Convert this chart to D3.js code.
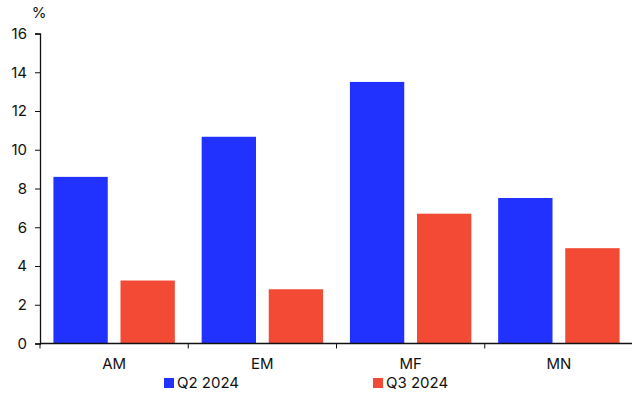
<!DOCTYPE html>
<html>
<head>
<meta charset="utf-8">
<script src="https://cdn.jsdelivr.net/npm/d3@7"></script>
<style>
	body { margin: 0; background: #fff; }
	text { font-family: Inter, "Liberation Sans", sans-serif; fill: #111; }
</style>
</head>
<body>
<svg></svg>
<script>
var categories = ["AM", "EM", "MF", "MN"];
var seriesNames = ["Q2 2024", "Q3 2024"];
var q2 = [8.6, 10.67, 13.5, 7.51];
var q3 = [3.25, 2.8, 6.7, 4.92];
var yTicks = [0, 2, 4, 6, 8, 10, 12, 14, 16];
var colors = ["#2132ff", "#f24a35"];

var draw = function() {

	var width = 632, height = 394;
	var left = 40, right = 633, top = 33.5, bottom = 343.5;

	var svg = d3.select("svg")
		.attr("width", width)
		.attr("height", height);

	var data = categories.map(function(c, i) {
		return { cat: c, values: [q2[i], q3[i]] };
	});

	// scales
	var scaleX = d3.scaleBand()
		.domain(categories)
		.range([left, right])
		.paddingInner(0)
		.paddingOuter(0);

	var scaleSub = d3.scaleBand()
		.domain(d3.range(seriesNames.length))
		.range([0, scaleX.bandwidth()])
		.paddingInner(0.19)
		.paddingOuter(0.2);

	var scaleY = d3.scaleLinear()
		.domain([0, 16])
		.range([bottom, top]);

	// bars
	svg.append("g").selectAll("g")
		.data(data)
		.enter()
		.append("g")
		.attr("transform", function(d) { return "translate(" + scaleX(d.cat) + ",0)"; })
		.selectAll("rect")
		.data(function(d) { return d.values; })
		.enter()
		.append("rect")
		.attr("x", function(d, i) { return scaleSub(i); })
		.attr("width", scaleSub.bandwidth())
		.attr("y", function(d) { return scaleY(d); })
		.attr("height", function(d) { return scaleY(0) - scaleY(d); })
		.attr("fill", function(d, i) { return colors[i]; });

	// y axis
	var yAxis = svg.append("g")
		.attr("transform", "translate(" + left + ",0)")
		.call(d3.axisLeft(scaleY).tickValues(yTicks).tickSize(5).tickPadding(8));
	yAxis.select(".domain").attr("stroke", "#111").attr("stroke-width", 1.3);
	yAxis.selectAll(".tick line").attr("stroke", "#111");
	yAxis.selectAll("text").style("font-size", "15px").attr("fill", "#111");

	// x axis, ticks at band edges
	svg.append("line")
		.attr("x1", left).attr("x2", right)
		.attr("y1", bottom).attr("y2", bottom)
		.attr("stroke", "#111").attr("stroke-width", 1.5);

	svg.append("g").selectAll("line")
		.data(categories)
		.enter()
		.append("line")
		.attr("x1", function(d) { return scaleX(d); })
		.attr("x2", function(d) { return scaleX(d); })
		.attr("y1", bottom).attr("y2", bottom + 5)
		.attr("stroke", "#111");

	svg.append("g").selectAll("text")
		.data(categories)
		.enter()
		.append("text")
		.attr("x", function(d) { return scaleX(d) + scaleX.bandwidth() / 2; })
		.attr("y", bottom + 25)
		.attr("text-anchor", "middle")
		.style("font-size", "15px")
		.text(function(d) { return d; });

	// unit label
	svg.append("text")
		.attr("x", 39).attr("y", 18)
		.attr("text-anchor", "middle")
		.style("font-size", "15px")
		.text("%");

	// legend
	var legendX = [164, 373];
	var legend = svg.append("g").selectAll("g")
		.data(seriesNames)
		.enter()
		.append("g")
		.attr("transform", function(d, i) { return "translate(" + legendX[i] + ",378)"; });
	legend.append("rect")
		.attr("width", 10).attr("height", 10)
		.attr("fill", function(d, i) { return colors[i]; });
	legend.append("text")
		.attr("x", 13).attr("y", 10)
		.style("font-size", "15px")
		.text(function(d) { return d; });
};

draw();
</script>
</body>
</html>
